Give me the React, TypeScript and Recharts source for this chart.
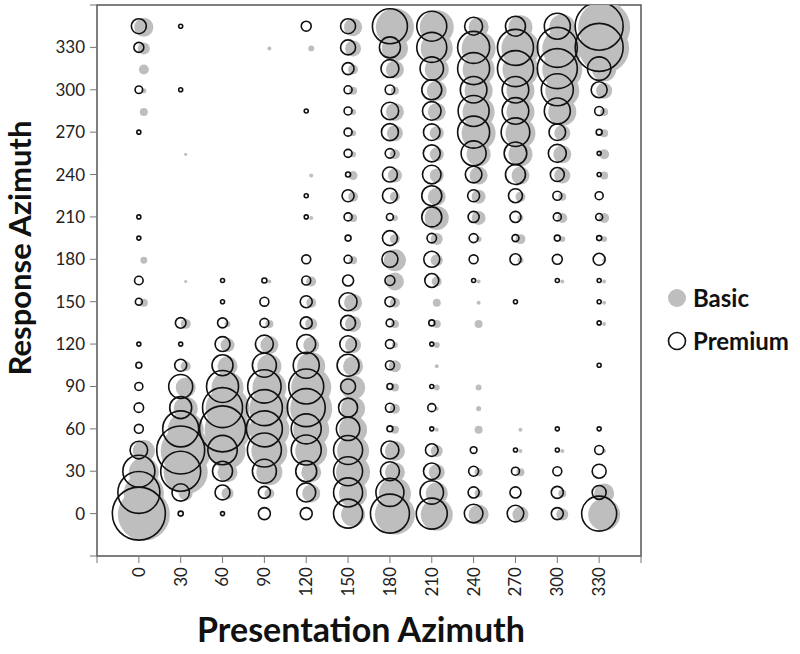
// @ts-nocheck
import { ScatterChart, Scatter, XAxis, YAxis, ZAxis, ReferenceArea, Legend, Label } from "recharts";

// presentation azimuth (columns) and response azimuth (rows)
const PRESENTATION = [0, 30, 60, 90, 120, 150, 180, 210, 240, 270, 300, 330];
const RESPONSE = [
  0, 15, 30, 45, 60, 75, 90, 105, 120, 135, 150, 165,
  180, 195, 210, 225, 240, 255, 270, 285, 300, 315, 330, 345,
];
const AXIS_TICKS = [-30, 0, 30, 60, 90, 120, 150, 180, 210, 240, 270, 300, 330, 360];

// response share per column, rows 0..345 (bubble area ~ value)
const BASIC = [
  [84.5, 50, 28.1, 15.1, 0, 0, 0, 0, 0, 0, 2, 0, 1.5, 0, 0, 0, 0, 0, 0, 2, 0.8, 3.1, 4.5, 11.3],
  [0, 6.1, 60.5, 78.1, 40.5, 18, 12.5, 3.1, 0, 3.1, 0, 0.3, 0, 0, 0, 0, 0, 0.3, 0, 0, 0, 0, 0, 0],
  [0, 4.5, 12.5, 40.5, 66.1, 60.5, 32, 12.5, 6.1, 1.1, 0, 0, 0, 0, 0, 0, 0, 0, 0, 0, 0, 0, 0, 0],
  [0, 3.1, 21.1, 40.5, 50, 50, 36.1, 18, 10.1, 2, 0, 0.5, 0, 0, 0, 0, 0, 0, 0, 0, 0, 0, 0.5, 0],
  [0, 10.1, 12.5, 32, 40.5, 55.1, 50, 24.5, 8, 4.5, 3.1, 3.1, 0, 0, 0.5, 0, 0.5, 0, 0, 0, 0, 0, 1.1, 0],
  [18, 24.5, 36.1, 32, 24.5, 18, 18, 12.5, 8, 8, 10.1, 0, 2, 0, 2, 3.1, 2.5, 1.1, 1.1, 1.1, 2, 3.1, 8, 10.1],
  [50, 32, 12.5, 12.5, 2, 3.1, 2, 4.5, 1.1, 2, 3.1, 10.1, 15.1, 3.1, 1.1, 3.1, 6.1, 3.1, 8, 10.1, 2, 10.1, 21.1, 45.1],
  [32, 15.1, 8, 4.5, 0.5, 0.5, 1.1, 0.5, 1.1, 2, 2, 3.1, 4.5, 4.5, 18, 10.1, 6.1, 6.1, 6.1, 10.1, 12.5, 18, 32, 36.1],
  [12.5, 2, 2, 0, 2, 0.8, 1.1, 0, 0, 2, 0.5, 0.5, 0, 1.1, 6.1, 6.1, 10.1, 18, 36.1, 32, 24.5, 32, 36.1, 12.5],
  [8, 0, 2, 0.5, 0.5, 0, 0, 0, 0, 0, 0, 0, 1.1, 3.1, 1.1, 3.1, 10.1, 18, 28.1, 24.5, 24.5, 40.5, 45.1, 18],
  [4.5, 2, 0, 0.5, 0, 0, 0, 0, 0, 0, 0, 0.5, 0, 1.1, 3.1, 2, 8, 10.1, 8, 24.5, 36.1, 50, 50, 21.1],
  [32, 12.5, 0, 0.5, 0, 0, 0, 0, 0, 0.5, 0.5, 0.5, 0.5, 1.1, 3.1, 0, 2, 3.1, 2, 2, 8, 18, 78.1, 84.5],
];

const PREMIUM = [
  [87.8, 55.1, 32, 9.7, 2.5, 2.8, 2, 1.1, 0.5, 0, 1.5, 2.3, 0, 0.5, 0.5, 0, 0, 0, 0.5, 0, 1.8, 0, 3.1, 7],
  [0.8, 9.5, 50, 72, 40.5, 15.1, 18, 4.5, 0.5, 3.5, 0, 0, 0, 0, 0, 0, 0, 0, 0, 0, 0.5, 0, 0, 0.5],
  [0.5, 7, 12.5, 27, 66.1, 50, 32, 13.8, 7, 3.1, 0.5, 0.5, 0, 0, 0, 0, 0, 0, 0, 0, 0, 0, 0, 0],
  [4.5, 4.5, 18, 36.1, 40.5, 40.5, 34.9, 18, 10.1, 2.5, 2.5, 0.8, 0, 0, 0, 0, 0, 0, 0, 0, 0, 0, 0, 0],
  [4.5, 11.3, 13.8, 28.1, 28.1, 45.1, 38.3, 21.1, 11.3, 4.5, 4.5, 2.5, 2.5, 0, 0.5, 0.5, 0, 0, 0, 0.5, 0, 0, 0, 3.1],
  [26.3, 26.3, 26.3, 26.3, 17.1, 11.3, 7, 15.1, 8.6, 7, 10.1, 3.8, 2, 1.1, 2, 4.5, 0.8, 2, 2, 2, 2, 4.5, 7, 7],
  [47.5, 24.5, 11.3, 10.1, 1.1, 2.5, 1.1, 2.5, 2.5, 1.8, 3.1, 3.1, 8, 7, 1.5, 7, 7, 2.8, 9, 9.5, 2.8, 10.1, 13.8, 38.3],
  [30, 17.1, 8.6, 5, 0.5, 2, 0.5, 0, 0.5, 1.1, 0, 6.1, 8, 2.8, 12.5, 12.5, 10.8, 9, 8.6, 10.8, 12.5, 17.1, 28.1, 28.1],
  [10.8, 3.8, 3.1, 1.4, 0, 0, 0, 0, 0, 0, 0, 0.5, 2.5, 2.5, 3.8, 4.5, 8.6, 19.5, 32, 30, 22.1, 32, 32, 10.1],
  [8.6, 3.8, 2, 0.5, 0, 0, 0, 0, 0, 0, 0.5, 0, 3.8, 1.5, 3.8, 6.1, 12.5, 16, 25.6, 22.1, 22.1, 40.5, 40.5, 12.5],
  [4.5, 4.5, 2.5, 0.5, 0.5, 0, 0, 0, 0, 0, 0, 0.5, 3.1, 1.1, 2, 2.5, 6.1, 10.1, 8.6, 21.1, 32, 50, 50, 21.1],
  [38.3, 6.1, 6.1, 2.5, 0.5, 0, 0, 0.5, 0, 0.5, 0.5, 0.5, 4.5, 0.8, 1.5, 2, 0.5, 0.5, 1.1, 2.5, 8, 17.1, 72, 72],
];

const SERIES = ["Basic", "Premium"];

const FONT = "Lato, 'Open Sans', sans-serif";
const GRAY = "#BEBEBE";

function toPoints(matrix) {
  return PRESENTATION.flatMap((x, ci) =>
    RESPONSE.map((y, ri) => ({ x, y, v: matrix[ci][ri] })),
  ).filter((p) => p.v > 0);
}

const basicData = toPoints(BASIC);
const premiumData = toPoints(PREMIUM);

function radius(p) {
  if (p.width) return p.width / 2;
  return Math.sqrt(Math.max(p.size || 0, 0) / Math.PI);
}

// basic dots sit a touch right/down of the premium rings
const BasicDot = (p) => (
  <circle cx={p.cx + 5} cy={p.cy + 1} r={radius(p)} fill={GRAY} />
);

const PremiumRing = (p) => (
  <circle cx={p.cx} cy={p.cy} r={radius(p)} fill="none" stroke="#111" strokeWidth={1.6} />
);

const labelOf = (v) => (v < 0 || v > 330 ? "" : String(v));

function XTick({ x, y, payload }) {
  return (
    <text
      x={x}
      y={y}
      transform={`rotate(-90, ${x}, ${y})`}
      textAnchor="end"
      dy="0.35em"
      fontFamily={FONT}
      fontSize={17}
      fill="#222"
    >
      {labelOf(payload.value)}
    </text>
  );
}

function LegendBox() {
  return (
    <div style={{ fontFamily: FONT, fontWeight: 700, fontSize: 24, color: "#111" }}>
      {SERIES.map((s, i) => (
        <div key={s} style={{ display: "flex", alignItems: "center", height: 43 }}>
          <svg width={26} height={26} style={{ marginRight: 3 }}>
            {i === 0 ? (
              <circle cx={13} cy={13} r={9} fill={GRAY} />
            ) : (
              <circle cx={13} cy={13} r={8.5} fill="none" stroke="#111" strokeWidth={1.6} />
            )}
          </svg>
          <span>{s}</span>
        </div>
      ))}
    </div>
  );
}

export default function App() {
  return (
    <div style={{ position: "absolute", left: 0, top: 0, width: 800, height: 654, background: "#fff", overflow: "hidden" }}>
      <ScatterChart width={800} height={654} margin={{ top: 5, right: 159, bottom: 0, left: 0 }}>
        <XAxis
          type="number"
          dataKey="x"
          domain={[-30, 360]}
          ticks={AXIS_TICKS}
          allowDataOverflow
          axisLine={false}
          tickLine={{ stroke: "#777" }}
          tickSize={7}
          tickMargin={4}
          height={98}
          tick={<XTick />}
          interval={0}
        >
          <Label
            content={() => (
              <text x={361} y={642} textAnchor="middle" fontFamily={FONT} fontWeight={700} fontSize={34} fill="#111">
                Presentation Azimuth
              </text>
            )}
          />
        </XAxis>
        <YAxis
          type="number"
          dataKey="y"
          domain={[-30, 360]}
          ticks={AXIS_TICKS}
          allowDataOverflow
          axisLine={false}
          tickLine={{ stroke: "#777" }}
          tickSize={7}
          tickMargin={5}
          width={97}
          interval={0}
          tickFormatter={labelOf}
          tick={{ fontFamily: FONT, fontSize: 17, fill: "#222" }}
        >
          <Label
            content={() => (
              <text
                x={0}
                y={0}
                transform="translate(31, 248) rotate(-90)"
                textAnchor="middle"
                fontFamily={FONT}
                fontWeight={700}
                fontSize={31}
                fill="#111"
              >
                Response Azimuth
              </text>
            )}
          />
        </YAxis>
        <ZAxis type="number" dataKey="v" domain={[0, 100]} range={[0, 2513]} />
        <ReferenceArea x1={-30} x2={360} y1={-30} y2={360} fill="none" stroke="#555" strokeWidth={1.5} ifOverflow="visible" />
        <Scatter name="Basic" data={basicData} shape={BasicDot} isAnimationActive={false} />
        <Scatter name="Premium" data={premiumData} shape={PremiumRing} isAnimationActive={false} />
        <Legend
          layout="vertical"
          align="center"
          verticalAlign="middle"
          content={<LegendBox />}
          wrapperStyle={{ position: "absolute", left: 664, top: 276, width: 136 }}
        />
      </ScatterChart>
    </div>
  );
}
